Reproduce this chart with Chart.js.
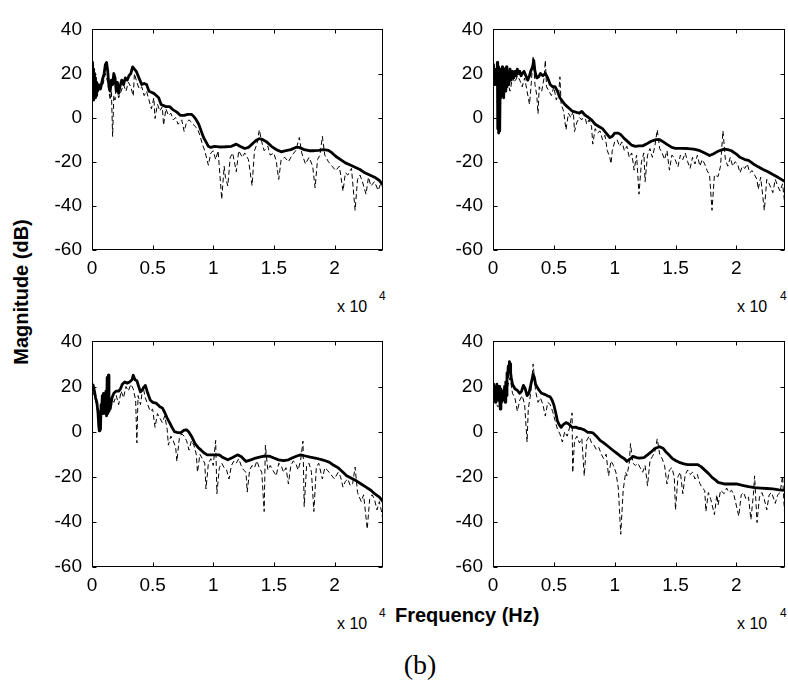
<!DOCTYPE html>
<html>
<head>
<meta charset="utf-8">
<script src="https://cdn.jsdelivr.net/npm/chart.js@4.4.1/dist/chart.umd.min.js"></script>
<style>
  body { margin: 0; background: #fff; width: 788px; height: 686px; position: relative; overflow: hidden;
         font-family: Arial, "Liberation Sans", sans-serif; color: #000; }
  canvas { position: absolute; }
  .exp { position: absolute; font-size: 16px; line-height: 16px; white-space: nowrap; }
  .sup { position: absolute; font-size: 12px; line-height: 12px; }
  .bold { position: absolute; font-weight: bold; font-size: 20px; line-height: 20px; white-space: nowrap; }
  .caption { position: absolute; font-family: "Liberation Serif", "Times New Roman", serif; font-size: 28px;
             line-height: 28px; width: 60px; text-align: center; }
</style>
</head>
<body>
<canvas id="tl" width="355" height="270" style="left:40px;top:8px"></canvas>
<canvas id="tr" width="348" height="270" style="left:440px;top:8px"></canvas>
<canvas id="bl" width="355" height="275" style="left:40px;top:320px"></canvas>
<canvas id="br" width="348" height="275" style="left:440px;top:320px"></canvas>

<div class="exp" style="left:337px;top:299px">x 10</div><div class="sup" style="left:379px;top:290px">4</div>
<div class="exp" style="left:737px;top:299px">x 10</div><div class="sup" style="left:780px;top:290px">4</div>
<div class="exp" style="left:337px;top:616px">x 10</div><div class="sup" style="left:379px;top:607px">4</div>
<div class="exp" style="left:737px;top:616px">x 10</div><div class="sup" style="left:780px;top:607px">4</div>

<div class="bold" style="left:-64px;top:282px;width:170px;text-align:center;transform:rotate(-90deg)">Magnitude (dB)</div>
<div class="bold" style="left:395px;top:605px">Frequency (Hz)</div>
<div class="caption" style="left:390px;top:651px">(b)</div>

<script>
// tick positions (Hz / dB)
const xTicks = [0, 5000, 10000, 15000, 20000];
const yTicks = [-60, -40, -20, 0, 20, 40];

// [frequency Hz, magnitude dB]
// top left
const solidTL = [
  [0,25],[30,8],[60,24],[90,9],[120,22],[150,8],[180,20],[210,10],[250,18],[290,9],[330,16],[370,10],[400,14],
  [450,12],[550,15],[700,13],[850,17],[1000,20],[1100,24],[1200,25],[1300,21],[1400,14],[1500,12],[1600,17],
  [1700,15],[1800,20],[1900,18],[2000,12],[2100,16],[2200,11],[2300,14],[2450,17],[2600,15],[2750,18],[2900,17],
  [3050,19],[3200,20],[3350,23],[3500,22],[3650,21],[3800,19],[3950,17],[4100,15],[4300,15.5],[4500,15],[4700,12],
  [4900,11.5],[5100,11],[5300,10],[5500,9],[5700,6],[5900,5.5],[6100,5],[6400,5],[6700,3.5],[7000,2.5],[7300,1],
  [7600,1],[7900,1.5],[8200,1.5],[8400,0.5],[8600,-1],[8800,-3],[9000,-6],[9200,-9],[9400,-11],[9600,-13],
  [9800,-13.5],[10100,-13],[10500,-13.3],[11000,-13.2],[11500,-13],[11900,-12],[12200,-13],[12600,-14],
  [12900,-13.5],[13200,-12],[13500,-10.5],[13800,-9.5],[14100,-10],[14400,-11],[14800,-13],[15200,-14.5],
  [15600,-15.5],[16000,-15],[16400,-14.5],[16800,-13.5],[17100,-13.5],[17500,-14.5],[17900,-15],[18300,-15],
  [18700,-14.8],[19100,-14.5],[19500,-14.8],[19800,-16],[20100,-17.5],[20500,-19],[20900,-20.5],[21300,-21.5],
  [21700,-22.5],[22100,-23.5],[22500,-25],[22900,-26],[23300,-27],[23700,-28.5],[24000,-30.5]
];
const dashTL = [
  [0,18],[150,10],[300,14],[500,12],[700,13],[900,15],[1100,20],[1300,16],[1500,8],[1600,12],[1700,-8.5],[1800,10],
  [1900,8],[2000,14],[2200,9],[2400,12],[2600,15],[2800,12],[3000,16],[3200,14],[3400,9.8],[3500,20],[3700,16],
  [3900,13],[4100,14],[4300,10],[4500,12],[4700,8],[4900,4],[5100,9],[5200,-0.4],[5400,6],[5600,3],[5800,5],
  [5900,-3.4],[6100,4],[6300,1],[6500,2],[6700,-1],[6900,0],[7100,-3],[7400,-1],[7600,-6.3],[7800,-2],[8000,-1],
  [8200,-2],[8500,-4],[8700,-5],[8900,-8],[9100,-12],[9300,-15],[9600,-21.6],[9800,-16],[10000,-15],[10200,-19],
  [10400,-15],[10700,-37],[10900,-22],[11000,-27],[11200,-31],[11400,-18],[11600,-16],[11900,-24.5],[12100,-15],
  [12400,-18],[12600,-16],[12900,-19],[13200,-30.8],[13400,-15],[13600,-12],[13800,-5.5],[14000,-11],[14200,-15],
  [14500,-13],[14700,-17],[15000,-16],[15200,-20],[15400,-28],[15600,-19],[15900,-18],[16200,-20],[16500,-17],
  [16800,-15],[17100,-9],[17300,-16],[17600,-21],[17900,-18],[18200,-22],[18400,-31.8],[18600,-19],[18800,-17],
  [19000,-8.5],[19200,-17],[19500,-20],[19800,-22],[20100,-24],[20400,-22],[20700,-33.3],[20900,-25],[21100,-26],
  [21400,-23],[21700,-42],[21900,-28],[22100,-26],[22300,-29],[22600,-34.7],[22800,-27],[23000,-31],[23300,-29],
  [23600,-33],[23800,-30],[24000,-31.8]
];

// top right
const solidTR = [
  [0,23],[30,16],[60,24],[90,15],[120,22],[160,17],[200,21],[240,15],[280,22],[320,16],[360,25],[390,-5],[420,23],
  [450,-7],[480,20],[510,-6],[540,21],[570,-4],[600,19],[640,9],[680,22],[720,10],[760,23],[800,11],[840,21],
  [880,9],[920,22],[960,13],[1000,20],[1050,12],[1100,23],[1150,14],[1200,21],[1300,15],[1400,22],[1500,17],
  [1600,21],[1700,18],[1800,21],[1900,19],[2000,22],[2100,20],[2200,21],[2300,19],[2400,20],[2550,21],[2700,19],
  [2850,17],[3000,19],[3100,21],[3250,23],[3350,26],[3450,21],[3600,18],[3750,18.5],[3900,20],[4100,19],[4300,20],
  [4500,18],[4700,15],[4900,14],[5100,14],[5300,12],[5500,9],[5700,7.5],[5900,6],[6100,5],[6300,4],[6500,3],
  [6800,2.5],[7100,2],[7300,2.8],[7600,1],[7800,0.3],[8100,-1],[8400,-3],[8700,-4],[9000,-5],[9300,-7],[9600,-9],
  [9800,-8.5],[10000,-7],[10300,-7],[10500,-7.7],[10800,-9.5],[11100,-11],[11400,-12.5],[11700,-13],[12000,-12.8],
  [12300,-12.8],[12600,-12],[13000,-10.7],[13400,-10],[13700,-10],[14000,-11],[14300,-12.1],[14700,-13.5],
  [15000,-13.9],[15500,-13.9],[16000,-14],[16500,-14.3],[17000,-15],[17400,-16],[17800,-17.2],[18100,-16.5],
  [18400,-15.5],[18700,-14.8],[19000,-14.3],[19300,-14.5],[19600,-15],[20000,-16.5],[20300,-18],[20700,-19],
  [21000,-19.4],[21400,-21],[21800,-22.3],[22200,-23.5],[22600,-24.5],[23000,-25.8],[23300,-26.7],[23700,-28],
  [24000,-29]
];
const dashTR = [
  [0,18],[200,15],[400,14],[600,12],[800,15],[1000,13],[1200,16],[1400,12],[1600,18],[1800,16],[2000,19],[2200,17],
  [2400,14],[2600,18],[2800,12],[3000,6],[3150,16],[3300,28],[3450,15],[3600,10],[3700,1.8],[3800,14],[4000,12],
  [4200,18],[4300,26],[4400,14],[4600,12],[4800,10],[5000,14],[5200,8],[5400,11],[5500,18.5],[5600,6],[5800,3],
  [6000,-5.5],[6200,2],[6400,0],[6600,3],[6700,-6.3],[6900,-2],[7100,0],[7300,-1],[7500,2],[7700,-3],[7900,-1],
  [8100,-4],[8200,-12],[8400,-5],[8600,-7],[8800,-6],[9000,-10],[9200,-8],[9400,-15],[9600,-18],[9700,-20.9],
  [9800,-15],[10000,-11],[10200,-10],[10400,-13],[10600,-11],[10800,-15],[11000,-13],[11200,-18],[11400,-16],
  [11600,-23.8],[11800,-17],[12000,-34.7],[12200,-20],[12400,-16],[12500,-29],[12700,-17],[12900,-14],[13100,-18],
  [13300,-13],[13500,-5.5],[13700,-14],[13900,-16],[14100,-19],[14300,-15],[14500,-23.8],[14700,-17],[14900,-18],
  [15200,-22.3],[15400,-17],[15600,-19],[15800,-16],[16000,-20],[16200,-23],[16400,-18],[16600,-21],[16800,-17],
  [17000,-22],[17200,-19],[17400,-21],[17600,-24],[17800,-26],[18000,-42],[18200,-26],[18500,-26.7],[18700,-22],
  [18900,-6],[19100,-19],[19300,-22],[19500,-18],[19700,-22],[19900,-20],[20100,-21],[20300,-25],[20500,-22],
  [20700,-23],[20900,-21],[21100,-25],[21300,-24],[21500,-26],[21700,-28],[21800,-32.5],[22000,-27],[22300,-42],
  [22500,-28],[22700,-30],[23000,-34],[23200,-28],[23400,-31],[23600,-33.3],[23800,-30],[24000,-40]
];

// bottom left
const solidBL = [
  [0,21],[100,20.5],[200,18],[300,15],[400,13],[500,8],[550,3],[600,0.4],[650,8],[700,1],[750,12],[800,9],
  [850,16],[900,8],[950,17],[1000,9],[1050,15],[1100,8],[1150,18],[1200,7],[1250,24],[1300,8],[1350,25],[1400,9],
  [1450,14],[1500,10],[1650,15],[1800,17],[2000,18],[2200,18],[2350,19],[2500,21],[2700,22],[2900,21.5],[3100,22],
  [3300,23],[3400,25],[3550,23],[3700,22.6],[3850,20],[4000,17.6],[4200,19],[4400,20.5],[4600,17],[4800,14],
  [5000,13],[5300,12.6],[5600,11],[5800,10.5],[6000,8.5],[6200,6],[6400,4],[6600,1.9],[6800,0],[7000,-0.3],
  [7300,-0.5],[7600,0.7],[7800,0.8],[8000,-0.3],[8250,-2.5],[8500,-5.3],[8750,-7],[9000,-8.2],[9250,-9.5],
  [9500,-10.3],[9800,-10.3],[10000,-10.3],[10500,-10.3],[10800,-11.5],[11200,-12.5],[11600,-11.5],[12000,-10.3],
  [12300,-11],[12700,-13.2],[13100,-12.5],[13500,-11.7],[13900,-11.2],[14300,-10.7],[14700,-11],[15000,-11.7],
  [15400,-12.5],[15800,-12.9],[16200,-12.5],[16500,-11.7],[16900,-10.8],[17200,-10.3],[17600,-10.8],[18000,-11.3],
  [18500,-11.8],[19000,-12.5],[19300,-13],[19600,-13.6],[19900,-14.8],[20300,-16],[20700,-18],[21000,-19.6],
  [21400,-20.7],[21800,-21.8],[22200,-23.2],[22600,-24.6],[23000,-26],[23300,-27.5],[23700,-29],[24000,-31]
];
const dashBL = [
  [0,18],[200,16],[400,11],[600,8],[800,12],[1000,10],[1200,14],[1400,12],[1600,15],[1800,13],[2000,16],[2200,12],
  [2400,18],[2600,15],[2800,20],[3000,18],[3200,21],[3400,19],[3600,14],[3700,-5],[3800,16],[4000,12],[4200,20],
  [4400,15],[4600,12],[4800,9],[5000,10],[5200,1.9],[5400,8],[5600,6],[5800,4],[6000,7],[6200,1],[6300,-6],
  [6500,-2],[6700,-4],[6900,-7],[7000,-13.2],[7200,-3],[7400,-1],[7600,-2],[7800,-4],[8000,-8.2],[8200,-4],
  [8400,-6],[8600,-10],[8700,-18],[8900,-10],[9100,-12],[9300,-14],[9400,-25.4],[9600,-14],[9800,-12],[10000,-15],
  [10200,-3.9],[10300,-27.5],[10500,-16],[10700,-14],[10900,-16],[11100,-17],[11300,-21],[11500,-15],[11700,-13],
  [11900,-14],[12100,-12],[12300,-15],[12500,-17],[12700,-18],[12800,-26.8],[13000,-17],[13200,-15],[13400,-16],
  [13600,-13],[13800,-16],[14000,-18],[14200,-35.4],[14300,-6],[14500,-17],[14700,-15],[14900,-17],[15200,-19.6],
  [15400,-14],[15600,-15],[15800,-18],[16000,-16],[16200,-23.2],[16400,-15],[16600,-13],[16800,-14],[17000,-17],
  [17200,-13],[17400,-4.2],[17500,-33.2],[17700,-15],[17900,-14],[18100,-18],[18300,-35.4],[18500,-16],[18700,-14],
  [19000,-21],[19200,-16],[19400,-17],[19700,-19],[20000,-21],[20300,-18],[20500,-20],[20700,-24.6],[20900,-22],
  [21100,-21],[21300,-24],[21500,-23],[21700,-15.7],[21900,-27],[22200,-31],[22400,-28],[22700,-43.2],[22900,-30],
  [23100,-28],[23300,-30],[23500,-34.7],[23700,-31],[23900,-36],[24000,-39.7]
];

// bottom right
const solidBR = [
  [0,19],[40,14],[80,21],[120,15],[160,20],[200,13],[240,19],[280,16],[320,21],[360,14],[400,18],[450,15],[500,20],
  [550,14],[600,10],[650,19],[700,13],[750,18],[800,17],[850,16],[900,14],[950,20],[1000,13],[1050,22],[1100,16],
  [1150,26],[1200,24],[1250,29],[1300,27],[1350,31],[1400,30],[1450,26],[1500,24],[1600,21],[1800,19],[2000,18.3],
  [2200,17],[2350,18],[2500,20.5],[2650,19],[2800,16],[2950,17],[3100,20.5],[3200,23],[3300,25.4],[3400,24],
  [3500,21],[3650,19.5],[3800,18.3],[4000,17],[4300,16.4],[4500,15.8],[4700,15.4],[4850,14],[5000,11.9],[5150,8.5],
  [5300,4.7],[5450,3],[5600,1.9],[5750,3],[6000,4],[6200,3.5],[6500,1.9],[6800,2],[7000,1.5],[7200,1.4],[7500,0.8],
  [7800,-0.3],[8000,-0.3],[8200,-0.5],[8500,-2],[8800,-3.9],[9100,-5],[9500,-6.7],[10000,-8.9],[10500,-11],
  [10800,-12],[11000,-13.2],[11300,-12],[11500,-11],[11800,-11.5],[12000,-11.7],[12400,-11.5],[12700,-10.3],
  [13000,-9],[13300,-7.5],[13700,-6.7],[14000,-7.5],[14200,-8.9],[14500,-10.5],[14700,-11.7],[15000,-12.8],
  [15300,-13.6],[15700,-14.3],[16000,-14.6],[16400,-14.6],[16800,-14.6],[17100,-15.5],[17500,-17.5],[17700,-18.5],
  [18000,-20.3],[18300,-21.5],[18500,-22.5],[19000,-23.2],[19500,-23.2],[20000,-23.2],[20500,-23.8],[21000,-24.4],
  [21500,-24.8],[22000,-25],[22500,-25.2],[23000,-25.4],[23500,-25.8],[24000,-26]
];
const dashBR = [
  [0,15],[200,13],[400,11],[600,12],[800,14],[1000,16],[1200,20],[1400,24],[1600,17],[1800,15],[2000,9],[2200,14],
  [2400,16],[2600,12],[2800,-4.6],[2900,10],[3100,17],[3300,30],[3500,18],[3700,13],[3900,15],[4100,12],[4300,6.9],
  [4500,13],[4700,12],[4900,9],[5100,5],[5300,1],[5500,-1],[5700,-4.6],[5900,0],[6100,-2],[6300,2],[6500,8.3],
  [6550,-18.2],[6700,-4],[6900,-2],[7100,-5],[7300,-3],[7500,-19.6],[7700,-4],[7900,-2],[8100,-5],[8300,-6],
  [8500,-8],[8700,-7],[8900,-10],[9100,-12],[9300,-10],[9500,-19.6],[9700,-13],[9900,-15],[10100,-18],[10300,-25],
  [10500,-45.5],[10700,-26],[10900,-18],[11000,-19.6],[11200,-14],[11300,-5.3],[11500,-14],[11700,-15],[11900,-14],
  [12100,-16],[12300,-18],[12500,-15],[12700,-24],[12900,-13],[13100,-11],[13300,-9],[13500,-3.2],[13700,-10],
  [13900,-12],[14100,-15],[14300,-23.2],[14500,-17],[14700,-16],[14900,-20],[15000,-34.7],[15200,-20],[15400,-18],
  [15600,-27.5],[15800,-19],[16000,-17],[16200,-19],[16400,-18],[16600,-21],[16800,-19],[17000,-23],[17200,-25],
  [17400,-26],[17500,-35.4],[17700,-27],[17900,-30],[18200,-36.8],[18400,-28],[18500,-32.5],[18700,-26],
  [19000,-27.5],[19200,-25],[19400,-27],[19600,-26],[19800,-28],[20200,-37.5],[20400,-28],[20600,-27],[20800,-30],
  [21000,-29],[21200,-39],[21400,-28],[21500,-19.6],[21700,-40.3],[21900,-29],[22100,-27],[22300,-30],[22500,-34.7],
  [22700,-28],[22900,-27],[23200,-31.8],[23400,-28],[23600,-27],[23800,-19.6],[24000,-39.8]
];

const tickFont = { family: 'Arial, "Liberation Sans", sans-serif', size: 19 };

// matlab style box with inward ticks on all four sides
const boxPlugin = {
  id: 'box',
  afterDraw(chart) {
    const { ctx, chartArea: a, scales } = chart;
    const L = Math.round(a.left) + 0.5, R = Math.round(a.right) - 0.5;
    const T = Math.round(a.top) + 0.5, B = Math.round(a.bottom) - 0.5;
    ctx.save();
    ctx.strokeStyle = '#000';
    ctx.lineWidth = 1;
    ctx.strokeRect(L, T, R - L, B - T);
    ctx.beginPath();
    scales.x.ticks.forEach(t => {
      const px = Math.round(scales.x.getPixelForValue(t.value)) + 0.5;
      ctx.moveTo(px, B); ctx.lineTo(px, B - 4);
      ctx.moveTo(px, T); ctx.lineTo(px, T + 4);
    });
    scales.y.ticks.forEach(t => {
      const py = Math.round(scales.y.getPixelForValue(t.value)) + 0.5;
      ctx.moveTo(L, py); ctx.lineTo(L + 4, py);
      ctx.moveTo(R, py); ctx.lineTo(R - 4, py);
    });
    ctx.stroke();
    ctx.restore();
  }
};

function makePanel(id, solid, dashed, yWidth, padRight) {
  return new Chart(document.getElementById(id), {
    type: 'line',
    data: {
      datasets: [
        { data: solid.map(p => ({ x: p[0], y: p[1] })), borderColor: '#000', borderWidth: 2.8,
          pointRadius: 0, tension: 0, borderJoinStyle: 'round' },
        { data: dashed.map(p => ({ x: p[0], y: p[1] })), borderColor: '#000', borderWidth: 1,
          borderDash: [5, 3], pointRadius: 0, tension: 0 }
      ]
    },
    options: {
      responsive: false,
      animation: false,
      events: [],
      layout: { padding: { top: 14, right: padRight, left: 0, bottom: 0 } },
      plugins: { legend: { display: false }, tooltip: { enabled: false } },
      scales: {
        x: {
          type: 'linear', min: 0, max: 24000,
          grid: { display: false, drawTicks: false }, border: { display: false },
          afterBuildTicks: s => { s.ticks = xTicks.map(v => ({ value: v })); },
          afterFit: s => { s.height = 28; },
          ticks: { padding: 7, color: '#000', font: tickFont, maxRotation: 0, autoSkip: false,
                   callback: v => String(v / 1e4) }
        },
        y: {
          min: -60, max: 40,
          grid: { display: false, drawTicks: false }, border: { display: false },
          afterBuildTicks: s => { s.ticks = yTicks.map(v => ({ value: v })); },
          afterFit: s => { s.width = yWidth; },
          ticks: { padding: 10, color: '#000', font: tickFont }
        }
      }
    },
    plugins: [boxPlugin]
  });
}

makePanel('tl', solidTL, dashTL, 52, 12);
makePanel('tr', solidTR, dashTR, 53, 3);
makePanel('bl', solidBL, dashBL, 52, 12);
makePanel('br', solidBR, dashBR, 53, 3);
</script>
</body>
</html>
